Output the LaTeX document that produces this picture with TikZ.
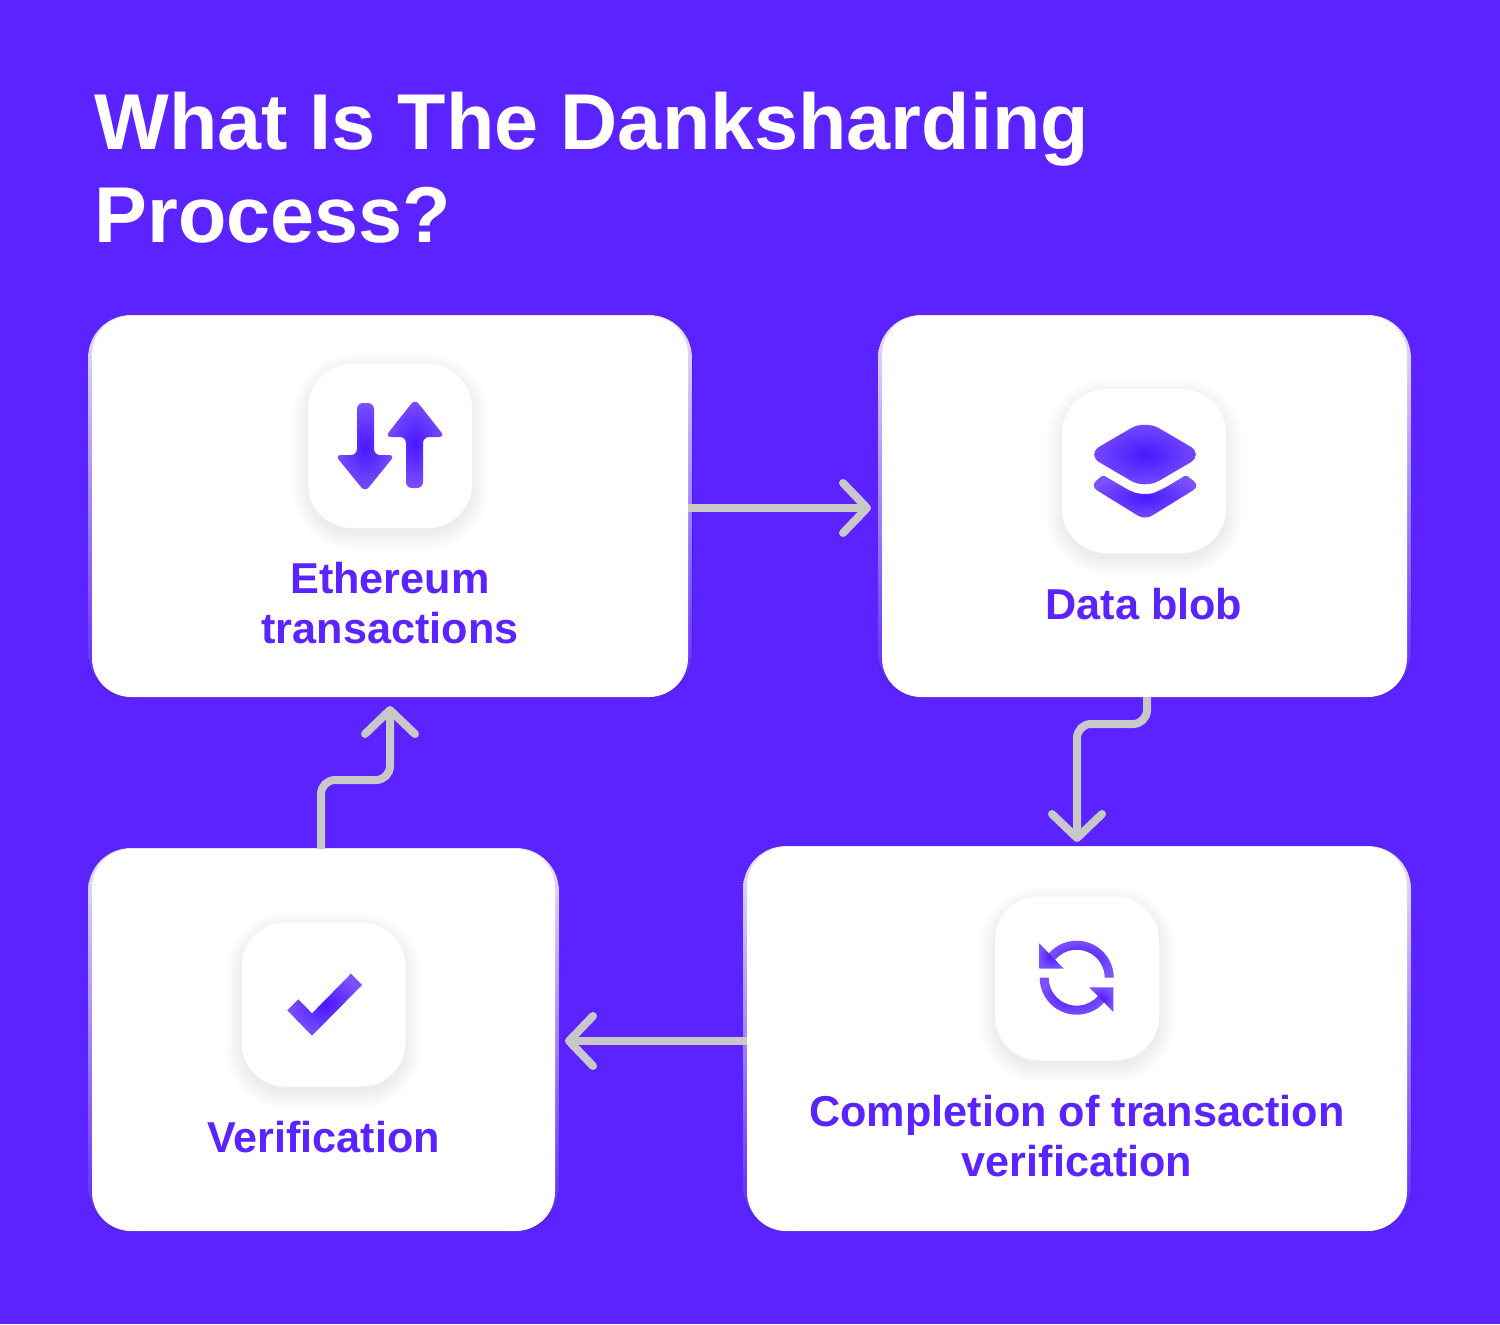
\documentclass[tikz,border=0pt]{standalone}
\usepackage{fontspec}
\setmainfont{Liberation Sans}
\usetikzlibrary{arrows.meta,calc}
\definecolor{bgv}{HTML}{5A23FF}
\definecolor{rimtop}{HTML}{E9E2FF}
\definecolor{linegrey}{HTML}{C8C8C8}
\definecolor{iconmid}{HTML}{4A18FF}
\definecolor{iconedge}{HTML}{7A50FF}
\tikzset{
  x=0.5pt,y=-0.5pt,
  card/.style={fill=white,rounded corners=19.5pt,inner sep=0pt,outer sep=0pt},
  rim/.style={rounded corners=21.5pt,top color=rimtop,bottom color=bgv},
  tile/.style={fill=white,rounded corners=22pt,minimum width=82pt,minimum height=82pt,inner sep=0pt,outer sep=0pt},
  conn/.style={draw=linegrey,line width=4pt,rounded corners=7pt,-{Straight Barb[round,length=12pt,width=25pt,line width=4pt]}},
  icon/.style={inner color=iconmid,outer color=iconedge,draw=none},
  label/.style={text=bgv,font=\fontsize{21.6}{25}\selectfont\bfseries,align=center,inner sep=0pt,outer sep=0pt},
}
\newcommand{\softshadow}[2]{%
  \foreach \s in {0,2,...,16}{
    \fill[black,opacity=0.008,rounded corners=22pt+\s*0.5pt]
      ($(#1,#2)+(-82-\s,-76-\s)$) rectangle ($(#1,#2)+(82+\s,88+\s)$);
  }}
\begin{document}
\begin{tikzpicture}
\useasboundingbox (0,0) rectangle (1500,1324);
\fill[bgv] (0,0) rectangle (1500,1324);

% title
\node[text=white,font=\fontsize{39.6}{46.5}\selectfont\bfseries,align=left,anchor=north west,inner sep=0pt] (title) at (94,92) {What Is The Danksharding\\Process?};

% rims (soft light edge, fading downward)
\fill[rim] (88,315) rectangle (692,697);
\fill[rim] (878,315) rectangle (1411,697);
\fill[rim] (743,846) rectangle (1411,1231);
\fill[rim] (88,848) rectangle (559,1231);

% cards
\node[card,minimum width=298pt,minimum height=190.5pt] (a) at (390,506.5) {};
\node[card,minimum width=262.5pt,minimum height=190.5pt] (b) at (1144.5,506.5) {};
\node[card,minimum width=330pt,minimum height=192pt] (c) at (1077,1039) {};
\node[card,minimum width=231.5pt,minimum height=191pt] (d) at (323.5,1040) {};

% connectors
\draw[conn,shorten >=5.5pt] ([yshift=-0.75pt]a.east) -- ([yshift=-0.75pt]b.west);
\draw[conn,shorten >=2.5pt] ([xshift=1.25pt]b.south) |- ($(b.south)+(-34,27)$) -| (c.north);
\draw[conn,shorten >=5pt] ([yshift=-1pt]c.west) -- ([yshift=-0.5pt]d.east);
\draw[conn,shorten >=4.5pt] ([xshift=-1.25pt]d.north) |- ($(a.south)+(-34,83)$) -| (a.south);

% icon tiles
\softshadow{390}{446}
\softshadow{1144}{471}
\softshadow{1077}{978.5}
\softshadow{323.5}{1004.5}
\node[tile] (ta) at (390,446) {};
\node[tile] (tb) at (1144,471) {};
\node[tile] (tc) at (1077,978.5) {};
\node[tile] (td) at (323.5,1004.5) {};

% transactions icon
\shade[icon,rounded corners=3pt] (357,403) -- (374,403) -- (374,455) -- (395,455) -- (365,492) -- (335,455) -- (357,455) -- cycle;
\shade[icon,rounded corners=3pt] (415,399) -- (445,437) -- (423,437) -- (423,488) -- (406,488) -- (406,437) -- (385,437) -- cycle;

% layers icon
\shade[icon,rounded corners=8pt] (1145,420) -- (1204,454.5) -- (1145,489) -- (1086,454.5) -- cycle;
\shade[icon,rounded corners=3.5pt] (1103,475) -- (1131,491.5) [rounded corners=6pt] -- (1145,496) -- (1159,491.5) [rounded corners=1pt] -- (1186,475) [rounded corners=4pt] -- (1200,486) -- (1145,520) -- (1090,486) [rounded corners=1pt] -- cycle;

% refresh icon
\shade[icon] (1113.7,977.7) arc (0:-140:37) -- ($(1076.7,977.7)+(-140:28)$) arc (-140:0:28) -- cycle;
\shade[icon] (1039.3,943.3) -- (1063.7,968.7) -- (1039.3,968.7) -- cycle;
\shade[icon] (1039.7,977.7) arc (180:40:37) -- ($(1076.7,977.7)+(40:28)$) arc (40:180:28) -- cycle;
\shade[icon] (1113.3,1012) -- (1089.3,987.3) -- (1113.3,987.3) -- cycle;

% check icon
\shade[icon] (351,973.7) -- (362,985) -- (312,1035.7) -- (287.3,1010.3) -- (298.3,999.3) -- (312,1013.3) -- cycle;

% labels
\node[label,anchor=center] (la) at (390,603) {Ethereum\\transactions};
\node[label,anchor=base] (lb) at (1144,619) {Data blob};
\node[label,anchor=center] (lc) at (1077,1136) {Completion of transaction\\verification};
\node[label,anchor=base] (ld) at (323.5,1152) {Verification};
\end{tikzpicture}
\end{document}
